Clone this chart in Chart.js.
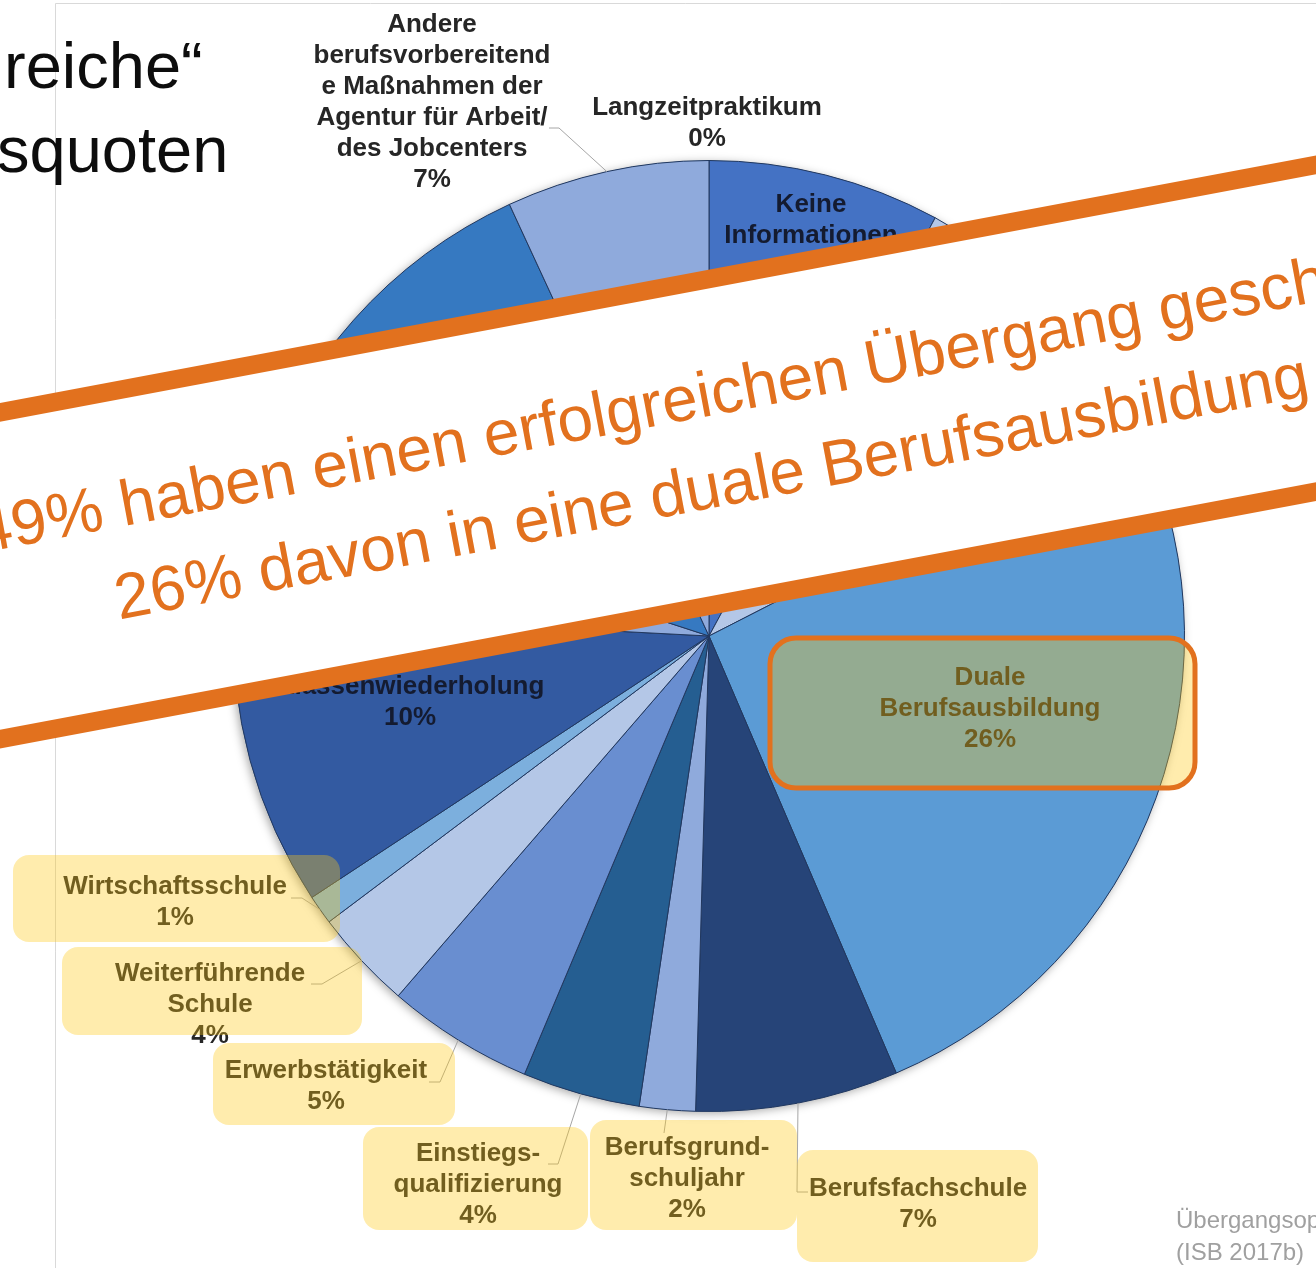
<!DOCTYPE html>
<html lang="de">
<head>
<meta charset="utf-8">
<title>Übergänge</title>
<script src="https://cdn.jsdelivr.net/npm/chart.js@4.4.1/dist/chart.umd.min.js"></script>
<style>
    html, body { margin: 0; padding: 0; background: #fff; }
    #wrap { position: relative; width: 1316px; height: 1268px; overflow: hidden; }
</style>
</head>
<body>
<div id="wrap"><canvas id="pie" width="1316" height="1268"></canvas></div>
<script>
var categories = [
    'Keine Informationen',
    'verdeckt (A)',
    'Duale Berufsausbildung',
    'Berufsfachschule',
    'Berufsgrundschuljahr',
    'Einstiegsqualifizierung',
    'Erwerbstätigkeit',
    'Weiterführende Schule',
    'Wirtschaftsschule',
    'Klassenwiederholung',
    'verdeckt (B)',
    'verdeckt (C)',
    'Andere berufsvorbereitende Maßnahmen der Agentur für Arbeit/ des Jobcenters',
    'Langzeitpraktikum'
];
var shares = [7.9, 9.6, 26.1, 6.9, 1.9, 4.0, 5.0, 3.4, 1.0, 10.1, 4.2, 13.1, 6.9, 0];
var percentLabels = ['8%', '', '26%', '7%', '2%', '4%', '5%', '4%', '1%', '10%', '', '', '7%', '0%'];
var sliceColors = [
    '#4472C4', '#B4C7E7', '#5B9BD5', '#264478', '#8FAADC', '#255E91', '#698ED0',
    '#B4C7E7', '#7CAFDD', '#335AA1', '#8FAADC', '#3679C1', '#8FAADC', '#A5A5A5'
];
var bannerLines = [
    '49% haben einen erfolgreichen Übergang geschafft',
    '26% davon in eine duale Berufsausbildung'
];

var ORANGE = '#E2711E';
var LABEL_FONT = 'bold 26px "Liberation Sans", Arial, sans-serif';
var LINE_H = 31;

// Beschriftungen: Textzeilen, Position, Kasten, Knick der Führungslinie
var labelLayout = {
    0:  { x: 811, y: 205, lines: ['Keine', 'Informationen'], color: '#141b30' },
    2:  { x: 990, y: 678, lines: ['Duale', 'Berufsausbildung'], box: [770, 638, 425, 150, 26], framed: true },
    3:  { x: 918, y: 1189, lines: ['Berufsfachschule'], box: [797, 1150, 241, 112, 16], leader: [[797, 1192], [808, 1192]] },
    4:  { x: 687, y: 1148, lines: ['Berufsgrund-', 'schuljahr'], box: [590, 1120, 207, 110, 16], leader: [[664, 1133]] },
    5:  { x: 478, y: 1154, lines: ['Einstiegs-', 'qualifizierung'], box: [363, 1127, 225, 103, 16], leader: [[558, 1164], [548, 1164]] },
    6:  { x: 326, y: 1071, lines: ['Erwerbstätigkeit'], box: [213, 1043, 242, 82, 16], leader: [[440, 1082], [429, 1082]] },
    7:  { x: 210, y: 974, lines: ['Weiterführende', 'Schule'], box: [62, 947, 300, 88, 16], leader: [[322, 984], [311, 984]] },
    8:  { x: 175, y: 887, lines: ['Wirtschaftsschule'], box: [13, 855, 327, 87, 16], leader: [[302, 898], [291, 898]] },
    9:  { x: 410, y: 687, lines: ['Klassenwiederholung'], color: '#141b30' },
    12: { x: 432, y: 25, lines: ['Andere', 'berufsvorbereitend', 'e Maßnahmen der', 'Agentur für Arbeit/', 'des Jobcenters'], leader: [[559, 128], [549, 128]] },
    13: { x: 707, y: 108, lines: ['Langzeitpraktikum'] }
};

function roundRect(ctx, x, y, w, h, r) {
    ctx.beginPath();
    ctx.moveTo(x + r, y);
    ctx.arcTo(x + w, y, x + w, y + h, r);
    ctx.arcTo(x + w, y + h, x, y + h, r);
    ctx.arcTo(x, y + h, x, y, r);
    ctx.arcTo(x, y, x + w, y, r);
    ctx.closePath();
}

var slidePlugin = {
    id: 'slide',
    beforeDraw: function(chart) {
        var ctx = chart.ctx;
        ctx.save();
        ctx.fillStyle = '#fff';
        ctx.fillRect(0, 0, chart.width, chart.height);
        ctx.strokeStyle = '#D9D9D9';
        ctx.lineWidth = 1;
        ctx.beginPath();
        ctx.moveTo(55.5, chart.height);
        ctx.lineTo(55.5, 3.5);
        ctx.lineTo(chart.width, 3.5);
        ctx.stroke();

        ctx.fillStyle = '#0d0d0d';
        ctx.font = '65px "Liberation Sans", Arial, sans-serif';
        ctx.textBaseline = 'alphabetic';
        ctx.fillText('reiche\u201C', 4, 88);
        ctx.fillText('squoten', -3, 172);

        ctx.fillStyle = '#A0A0A0';
        ctx.font = '24px "Liberation Sans", Arial, sans-serif';
        ctx.fillText('Übergangsoptionen', 1176, 1228);
        ctx.fillText('(ISB 2017b)', 1176, 1260);
        ctx.restore();
    },
    beforeDatasetsDraw: function(chart) {
        // weicher Schatten um den Kreis
        var arc = chart.getDatasetMeta(0).data[0];
        var p = arc.getProps(['x', 'y', 'outerRadius'], true);
        var ctx = chart.ctx;
        ctx.save();
        ctx.shadowColor = 'rgba(0,0,0,0.35)';
        ctx.shadowBlur = 10;
        ctx.shadowOffsetX = -2;
        ctx.shadowOffsetY = 2;
        ctx.fillStyle = '#5B9BD5';
        ctx.beginPath();
        ctx.arc(p.x, p.y, p.outerRadius, 0, Math.PI * 2);
        ctx.fill();
        ctx.restore();
    },
    afterDatasetsDraw: function(chart) {
        var ctx = chart.ctx;
        var arcs = chart.getDatasetMeta(0).data;
        ctx.save();

        // Führungslinien
        ctx.strokeStyle = '#A6A6A6';
        ctx.lineWidth = 1;
        Object.keys(labelLayout).forEach(function(k) {
            var l = labelLayout[k];
            if (!l.leader) return;
            var p = arcs[k].getProps(['x', 'y', 'startAngle', 'endAngle', 'outerRadius'], true);
            var mid = (p.startAngle + p.endAngle) / 2;
            ctx.beginPath();
            ctx.moveTo(p.x + Math.cos(mid) * p.outerRadius, p.y + Math.sin(mid) * p.outerRadius);
            l.leader.forEach(function(pt) { ctx.lineTo(pt[0], pt[1]); });
            ctx.stroke();
        });

        // Texte
        ctx.font = LABEL_FONT;
        ctx.textAlign = 'center';
        ctx.textBaseline = 'middle';
        Object.keys(labelLayout).forEach(function(k) {
            var l = labelLayout[k];
            var lines = l.lines.concat(percentLabels[k] ? [percentLabels[k]] : []);
            ctx.fillStyle = l.color || '#262626';
            lines.forEach(function(t, i) {
                ctx.fillText(t, l.x, l.y + i * LINE_H);
            });
        });

        // halbtransparente gelbe Kästen darüber
        Object.keys(labelLayout).forEach(function(k) {
            var b = labelLayout[k].box;
            if (!b) return;
            roundRect(ctx, b[0], b[1], b[2], b[3], b[4]);
            ctx.fillStyle = 'rgba(255, 200, 20, 0.35)';
            ctx.fill();
            if (labelLayout[k].framed) {
                ctx.strokeStyle = ORANGE;
                ctx.lineWidth = 5;
                ctx.stroke();
            }
        });
        ctx.restore();
    },
    afterDraw: function(chart) {
        // schräges Banner
        var ctx = chart.ctx;
        ctx.save();
        ctx.translate(658, 452);
        ctx.rotate(-10.65 * Math.PI / 180);
        ctx.fillStyle = '#fff';
        ctx.fillRect(-1000, -160.5, 2000, 321);
        ctx.fillStyle = ORANGE;
        ctx.fillRect(-1000, -160.5 - 9.25, 2000, 18.5);
        ctx.fillRect(-1000, 160.5 - 9.25, 2000, 18.5);
        ctx.font = '64px "Liberation Sans", Arial, sans-serif';
        ctx.textAlign = 'center';
        ctx.textBaseline = 'alphabetic';
        ctx.fillText(bannerLines[0], 46, -26);
        ctx.fillText(bannerLines[1], 46, 65);
        ctx.restore();
    }
};

var chart = new Chart(document.getElementById('pie'), {
    type: 'pie',
    data: {
        labels: categories,
        datasets: [{
            data: shares,
            backgroundColor: sliceColors,
            borderColor: '#22385f',
            borderWidth: 1
        }]
    },
    options: {
        responsive: false,
        animation: false,
        layout: { padding: { left: 233, right: 131, top: 160, bottom: 156 } },
        plugins: {
            legend: { display: false },
            tooltip: { enabled: false }
        }
    },
    plugins: [slidePlugin]
});
</script>
</body>
</html>
